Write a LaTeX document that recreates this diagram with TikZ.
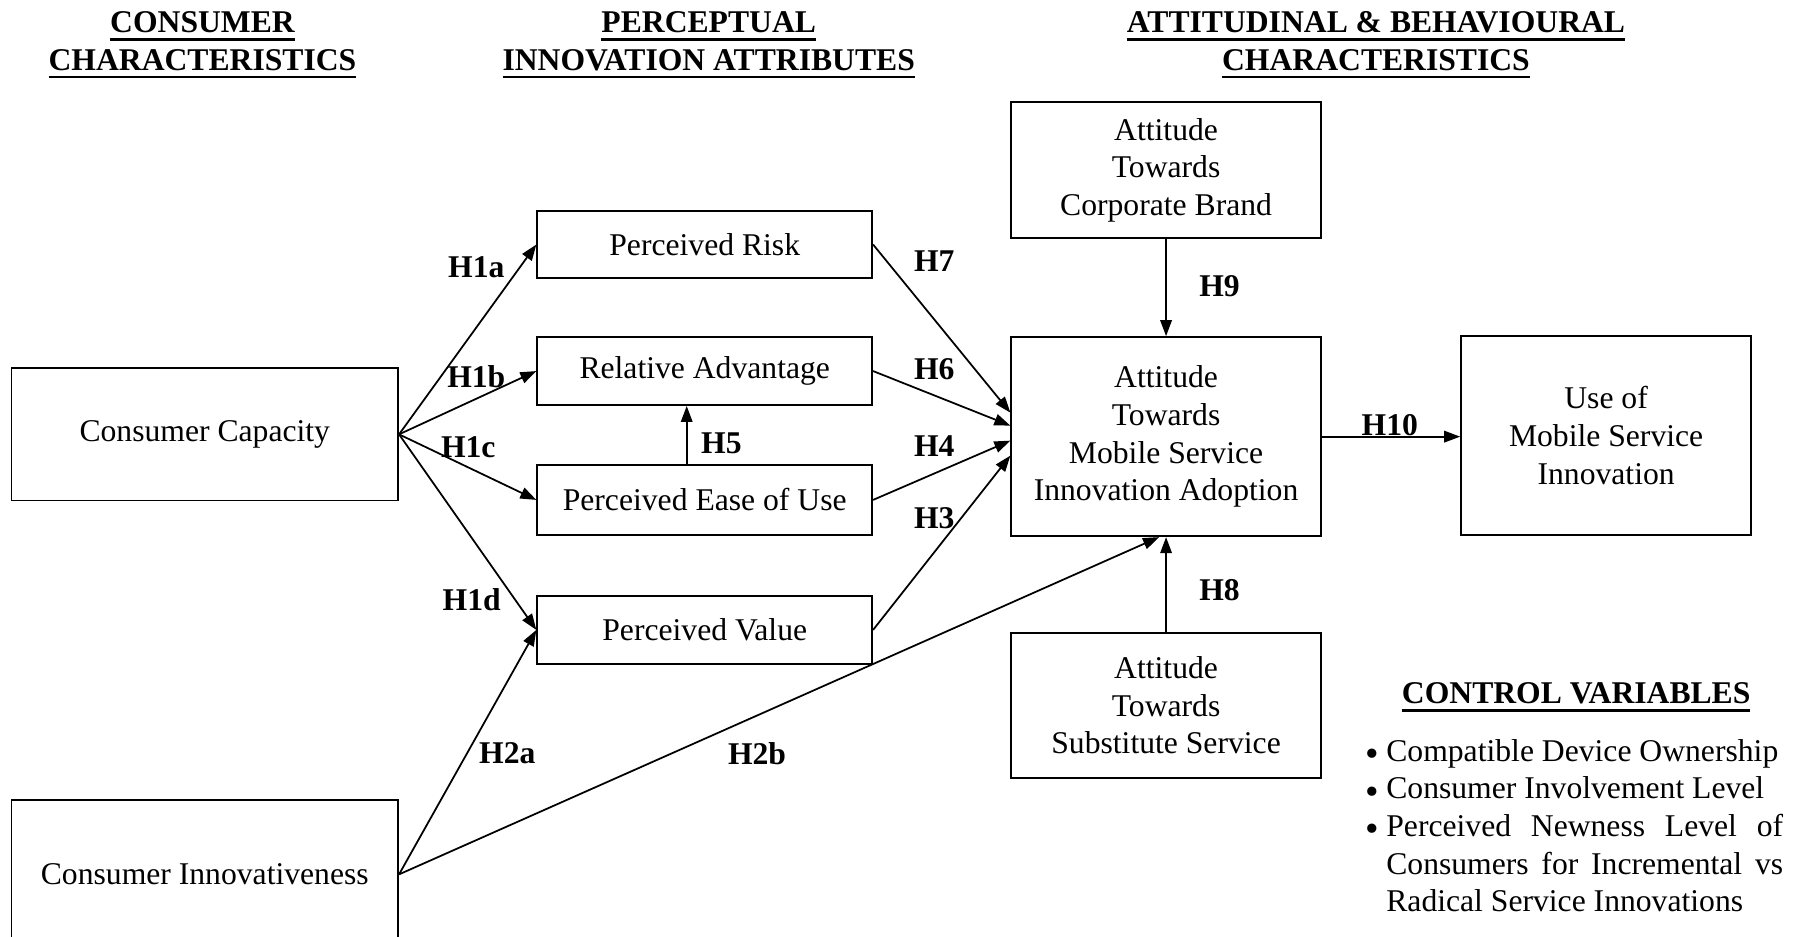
\documentclass[tikz,border=0pt]{standalone}
\usepackage{fontspec}
\setmainfont{Liberation Serif}
\usetikzlibrary{arrows.meta,positioning,calc}
\newcommand{\bigfont}{\fontsize{18}{21.4}\selectfont}
\newcommand{\headline}[1]{\setbox0\hbox{#1}\rlap{\rule[-4.6pt]{\wd0}{1.5pt}}\box0}
\newcommand{\cvbullet}{\makebox[11.6pt][l]{\smash{\raisebox{-3pt}{\fontsize{22}{22}\selectfont\textbullet}}}}

\begin{document}
\begin{tikzpicture}[
  box/.style={
    draw,
    line width=1.1pt,
    minimum width=6.693cm,
    minimum height=1.357cm,
    align=center,
    inner sep=2pt,
    font=\bigfont
  },
  head/.style={align=center, font=\bigfont\bfseries},
  hlab/.style={font=\bigfont\bfseries, inner sep=1pt},
  arr/.style={-{Triangle[length=0.32cm,width=0.23cm]}, line width=1pt}
]
\useasboundingbox (0,0) rectangle (36.064,-18.722);

% column headings
\node[head] (hcons) at (4.048,-0.9) {\headline{CONSUMER}\\\headline{CHARACTERISTICS}};
\node[head] (hperc) at (14.168,-0.9) {\headline{PERCEPTUAL}\\\headline{INNOVATION ATTRIBUTES}};
\node[head] (hatt) at (27.508,-0.9) {\headline{ATTITUDINAL \& BEHAVIOURAL}\\\headline{CHARACTERISTICS}};

% consumer characteristics
\node[box, minimum width=7.728cm, minimum height=2.645cm] (cap) at (4.094,-8.683) {Consumer Capacity};
\node[box, minimum width=7.728cm, minimum height=2.99cm] (inn) at (4.094,-17.48) {Consumer Innovativeness};

% perceptual attributes
\node[box] (risk) at (14.088,-4.888) {Perceived Risk};
\node[box] (adv) at (14.088,-7.418) {Relative Advantage};
\node[box, minimum height=1.403cm] (ease) at (14.088,-9.994) {Perceived Ease of Use};
\node[box] (value) at (14.088,-12.593) {Perceived Value};

% attitudes and behaviour
\node[box, minimum width=6.187cm, minimum height=2.714cm] (brand) at (23.311,-3.404) {Attitude\\Towards\\Corporate Brand};
\node[box, minimum width=6.187cm, minimum height=3.979cm] (adopt) at (23.311,-8.729) {Attitude\\Towards\\Mobile Service\\Innovation Adoption};
\node[box, minimum width=6.187cm, minimum height=2.898cm] (subst) at (23.311,-14.099) {Attitude\\Towards\\Substitute Service};
\node[box, minimum width=5.796cm, minimum height=3.979cm] (use) at (32.108,-8.706) {Use of\\Mobile Service\\Innovation};

% hypotheses
\draw[arr] (cap.east) -- (risk.west);
\draw[arr] (cap.east) -- (adv.west);
\draw[arr] (cap.east) -- (ease.west);
\draw[arr] (cap.east) -- (value.west);
\draw[arr] (inn.east) -- (value.west);
\draw[arr] (inn.east) -- ([xshift=-4pt]adopt.south);
\draw[arr] ([xshift=-0.36cm]ease.north) -- ([xshift=-0.36cm]adv.south);
\draw[arr] (risk.east) -- ([yshift=0.48cm]adopt.west);
\draw[arr] (adv.east) -- ([yshift=0.22cm]adopt.west);
\draw[arr] (ease.east) -- ([yshift=-0.08cm]adopt.west);
\draw[arr] (value.east) -- ([yshift=-0.38cm]adopt.west);
\draw[arr] (brand.south) -- (adopt.north);
\draw[arr] (subst.north) -- (adopt.south);
\draw[arr] (adopt.east) -- (adopt.east -| use.west);

\node[hlab] (h1a) at (9.522,-5.336) {H1a};
\node[hlab] (h1b) at (9.522,-7.521) {H1b};
\node[hlab] (h1c) at (9.361,-8.947) {H1c};
\node[hlab] (h1d) at (9.43,-11.983) {H1d};
\node[hlab] (h2a) at (10.143,-15.065) {H2a};
\node[hlab] (h2b) at (15.134,-15.065) {H2b};
\node[hlab] (h3) at (18.676,-10.35) {H3};
\node[hlab] (h4) at (18.676,-8.924) {H4};
\node[hlab] (h5) at (14.421,-8.855) {H5};
\node[hlab] (h6) at (18.676,-7.383) {H6};
\node[hlab] (h7) at (18.676,-5.221) {H7};
\node[hlab] (h8) at (24.38,-11.799) {H8};
\node[hlab] (h9) at (24.38,-5.727) {H9};
\node[hlab] (h10) at (27.784,-8.5) {H10};

% control variables
\node[head] (cvtitle) at (31.51,-13.938) {\headline{CONTROL VARIABLES}};
\node[anchor=north west, inner sep=0pt, text width=8.34cm, align=justify, font=\bigfont] (cvlist) at (27.3,-14.77) {%
  \parindent=0pt
  \cvbullet Compatible Device Ownership\par
  \cvbullet Consumer Involvement Level\par
  \cvbullet\hangindent=11.6pt\hangafter=1 Perceived Newness Level of Consumers for Incremental vs Radical Service Innovations\par};

\end{tikzpicture}
\end{document}
